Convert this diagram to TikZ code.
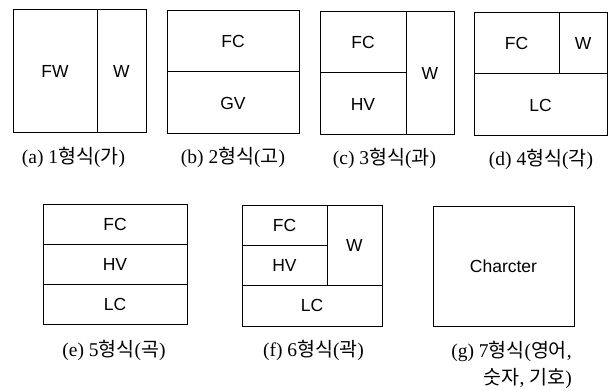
\documentclass[tikz,border=0pt]{standalone}
\usepackage{fontspec}
\setmainfont{Liberation Serif}
\newfontfamily\labfont{Liberation Sans}
\newfontfamily\cjk{Noto Sans CJK KR}
\newcommand\KR[1]{{\cjk #1}}
\newcommand\mycell[6]{\node[cell, minimum width={(#4-#2)*1pt}, minimum height={(#5-#3)*1pt}, anchor=north west] (#1) at (#2,#3) {#6};}
\tikzset{
  cell/.style={draw=black, line width=1pt, inner sep=0pt, outer sep=0pt, font=\labfont\fontsize{17.5}{19}\selectfont},
  caption/.style={inner sep=0pt, font=\fontsize{19.5}{27}\selectfont, align=center}
}
\begin{document}
\begin{tikzpicture}[x=1pt, y=-1pt]
\useasboundingbox[fill=white] (0,0) rectangle (609,390);
% (a)
\mycell{aFW}{13}{10}{97}{133}{FW}
\mycell{aW}{97}{10}{146}{133}{W}
% (b)
\mycell{bFC}{167}{11}{299}{72}{FC}
\mycell{bGV}{167}{72}{299}{134}{GV}
% (c)
\mycell{cFC}{320}{12}{406}{73}{FC}
\mycell{cHV}{320}{73}{406}{135}{HV}
\mycell{cW}{406}{12}{454}{135}{W}
% (d)
\mycell{dFC}{474}{13}{559}{74}{FC}
\mycell{dW}{559}{13}{607}{74}{W}
\mycell{dLC}{474}{74}{607}{136}{LC}
% (e)
\mycell{eFC}{43}{204}{187}{244}{FC}
\mycell{eHV}{43}{244}{187}{284}{HV}
\mycell{eLC}{43}{284}{187}{324}{LC}
% (f)
\mycell{fFC}{242}{205}{327}{245}{FC}
\mycell{fHV}{242}{245}{327}{285}{HV}
\mycell{fW}{327}{205}{382}{285}{W}
\mycell{fLC}{242}{285}{382}{326}{LC}
% (g)
\mycell{gCh}{433}{206}{574}{326}{Charcter}
% captions
\node[caption] (capa) at (73.5,157) {(a) 1\KR{형식}(\KR{가})};
\node[caption] (capb) at (233,157) {(b) 2\KR{형식}(\KR{고})};
\node[caption] (capc) at (384.5,158) {(c) 3\KR{형식}(\KR{과})};
\node[caption] (capd) at (541,159) {(d) 4\KR{형식}(\KR{각})};
\node[caption] (cape) at (114,350) {(e) 5\KR{형식}(\KR{곡})};
\node[caption] (capf) at (313.5,350) {(f) 6\KR{형식}(\KR{곽})};
\node[caption, align=right, anchor=north east] (capg) at (572,341) {(g) 7\KR{형식}(\KR{영어}, \\ \KR{숫자}, \KR{기호})};
\end{tikzpicture}
\end{document}
